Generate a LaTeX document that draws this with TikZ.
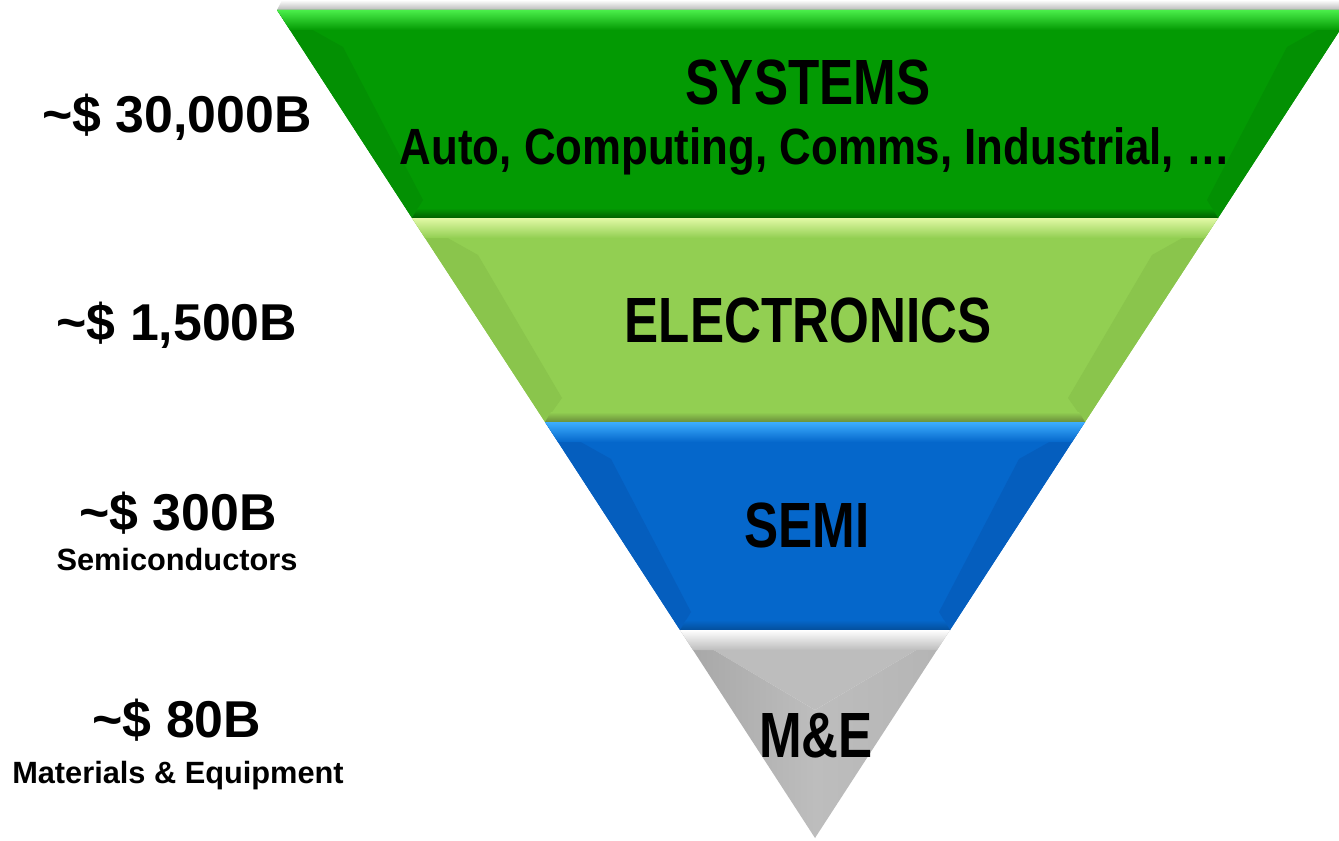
\documentclass[tikz,border=0pt]{standalone}
\usepackage{fontspec}
\setmainfont{Liberation Sans}
\newfontfamily\bandfont{Liberation Sans}[FakeStretch=0.8]
\newfontfamily\listfont{Liberation Sans}[FakeStretch=0.86]
\usepackage{tikz}
\usetikzlibrary{positioning}
\definecolor{sys_base}{HTML}{039A03}
\definecolor{sys_hi}{HTML}{4AEE4A}
\definecolor{sys_facet}{HTML}{039003}
\definecolor{sys_dark}{HTML}{006000}
\definecolor{elec_base}{HTML}{92CF52}
\definecolor{elec_hi}{HTML}{E2F9A6}
\definecolor{elec_facet}{HTML}{8AC54C}
\definecolor{elec_dark}{HTML}{6A8E3A}
\definecolor{semi_base}{HTML}{0567CB}
\definecolor{semi_hi}{HTML}{3DAEFF}
\definecolor{semi_facet}{HTML}{055EBE}
\definecolor{semi_dark}{HTML}{044F9C}
\definecolor{me_base}{HTML}{BDBDBD}
\definecolor{me_left}{HTML}{A6A6A6}
\definecolor{me_right}{HTML}{B4B4B4}
\tikzstyle{band_title}=[inner sep=0pt, anchor=base, font=\bandfont\bfseries\fontsize{36.4}{38}\selectfont]
\tikzstyle{band_list}=[inner sep=0pt, anchor=base, font=\listfont\bfseries\fontsize{29}{31}\selectfont]
\tikzstyle{value_label}=[inner sep=0pt, anchor=base, font=\bfseries\fontsize{29.5}{31}\selectfont]
\tikzstyle{value_sub}=[inner sep=0pt, anchor=base, font=\bfseries\fontsize{17.5}{19}\selectfont]

\begin{document}
\begin{tikzpicture}[x=0.02cm,y=0.02cm]
\useasboundingbox (0,0) rectangle (1339,840);
% shadow above the top edge
\shade[top color=white, bottom color=gray!55] (282,840) -- (1339,840) -- (1339,830) -- (277,830) -- cycle;
% systems band
\fill[sys_base] (277,830) -- (1353,830) -- (1218,622) -- (412,622) -- cycle;
\fill[sys_facet] (277,830) -- (343,793) -- (423,640) -- (412,622) -- cycle;
\fill[sys_facet] (1353,830) -- (1287,793) -- (1207,640) -- (1218,622) -- cycle;
\shade[top color=sys_hi, bottom color=sys_base] (277,830) -- (1353,830) -- (1340,810) -- (290,810) -- cycle;
\shade[top color=sys_base, bottom color=sys_dark] (418,632) -- (1212,632) -- (1218,622) -- (412,622) -- cycle;
% electronics band
\fill[elec_base] (412,622) -- (1218,622) -- (1085,418) -- (545,418) -- cycle;
\fill[elec_facet] (412,622) -- (478,585) -- (562,442) -- (545,418) -- cycle;
\fill[elec_facet] (1218,622) -- (1152,585) -- (1068,442) -- (1085,418) -- cycle;
\shade[top color=elec_hi, bottom color=elec_base] (412,622) -- (1218,622) -- (1205,602) -- (425,602) -- cycle;
\shade[top color=elec_base, bottom color=elec_dark] (551,428) -- (1079,428) -- (1085,418) -- (545,418) -- cycle;
% semi band
\fill[semi_base] (545,418) -- (1085,418) -- (950,210) -- (680,210) -- cycle;
\fill[semi_facet] (545,418) -- (611,381) -- (691,228) -- (680,210) -- cycle;
\fill[semi_facet] (1085,418) -- (1019,381) -- (939,228) -- (950,210) -- cycle;
\shade[top color=semi_hi, bottom color=semi_base] (545,418) -- (1085,418) -- (1072,398) -- (558,398) -- cycle;
\shade[top color=semi_base, bottom color=semi_dark] (686,220) -- (944,220) -- (950,210) -- (680,210) -- cycle;
% m&e tip
\fill[me_base] (680,210) -- (950,210) -- (815,130) -- cycle;
\shade[left color=me_left, right color=me_base] (680,210) -- (815,130) -- (815,2) -- cycle;
\shade[left color=me_base, right color=me_right] (950,210) -- (815,130) -- (815,2) -- cycle;
\shade[top color=white, bottom color=me_base] (680,210) -- (950,210) -- (937,190) -- (693,190) -- cycle;
% texts in the bands
\node[band_title] (sys_title) at (808,735) {SYSTEMS};
\node[band_list] (sys_list) at (815,676) {Auto, Computing, Comms, Industrial, …};
\node[band_title] (elec_title) at (808,498) {ELECTRONICS};
\node[band_title] (semi_title) at (807,293) {SEMI};
\node[band_title] (me_title) at (816,83) {M\&E};
% market sizes
\node[value_label] (val_sys) at (177,707) {\char`~\$ 30,000B};
\node[value_label] (val_elec) at (177,500) {\char`~\$ 1,500B};
\node[value_label] (val_semi) at (178,310) {\char`~\$ 300B};
\node[value_sub] (sub_semi) at (177,270) {Semiconductors};
\node[value_label] (val_me) at (177,103) {\char`~\$ 80B};
\node[value_sub] (sub_me) at (178,57) {Materials \& Equipment};
\end{tikzpicture}
\end{document}
